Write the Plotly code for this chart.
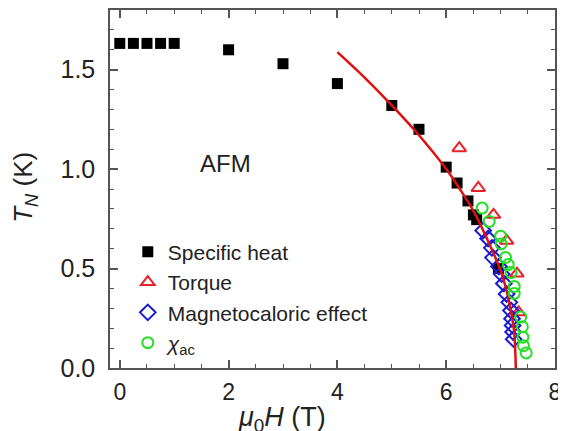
import plotly.graph_objects as go

# Specific heat (black filled squares)
sh_H = [0.0, 0.25, 0.5, 0.75, 1.0, 2.0, 3.0, 4.0, 5.0, 5.5, 6.0, 6.2, 6.4, 6.5, 6.56, 6.96]
sh_T = [1.632, 1.632, 1.632, 1.632, 1.632, 1.60, 1.53, 1.43, 1.32, 1.20, 1.01, 0.93, 0.84, 0.77, 0.746, 0.50]

# Torque (open red triangles)
tq_H = [6.24, 6.59, 6.87, 7.11, 7.30, 7.33]
tq_T = [1.105, 0.905, 0.77, 0.64, 0.475, 0.28]

# Magnetocaloric effect (open blue diamonds)
mce_H = [6.68, 6.77, 6.84, 6.86, 6.97, 7.02, 7.06, 7.11, 7.16, 7.19, 7.21, 7.22, 7.23, 7.24]
mce_T = [0.691, 0.651, 0.604, 0.555, 0.51, 0.472, 0.425, 0.372, 0.33, 0.289, 0.248, 0.214, 0.181, 0.145]

# chi_ac (open green circles)
chi_H = [6.66, 6.79, 7.00, 7.01, 7.09, 7.14, 7.19, 7.25, 7.25, 7.37, 7.40, 7.41, 7.42, 7.47]
chi_T = [0.804, 0.737, 0.663, 0.624, 0.555, 0.52, 0.48, 0.41, 0.375, 0.256, 0.207, 0.155, 0.112, 0.076]

# Fit curve (red line)
fit_H = [4.0, 4.5, 5.0, 5.5, 6.0, 6.25, 6.5, 6.75, 7.0, 7.1, 7.2, 7.25, 7.27, 7.28]
fit_T = [1.588, 1.46, 1.32, 1.17, 1.00, 0.90, 0.79, 0.65, 0.49, 0.40, 0.27, 0.18, 0.08, 0.0]

x_ticks = [0, 2, 4, 6, 8]
y_ticks = [0.0, 0.5, 1.0, 1.5]
y_tick_labels = ["0.0", "0.5", "1.0", "1.5"]

FONT = "Liberation Sans, Arial, sans-serif"
AX = "#555555"

fig = go.Figure()
fig.add_trace(go.Scatter(x=sh_H, y=sh_T, mode="markers", name="Specific heat", legendrank=1,
                         marker=dict(symbol="square", size=11, color="black")))
fig.add_trace(go.Scatter(x=tq_H, y=tq_T, mode="markers", name="Torque", legendrank=2,
                         marker=dict(symbol="triangle-up-open", size=12, color="#e8202a",
                                     line=dict(width=2, color="#e8202a"))))
fig.add_trace(go.Scatter(x=mce_H, y=mce_T, mode="markers", name="Magnetocaloric effect", legendrank=3,
                         marker=dict(symbol="diamond-open", size=12, color="#1a1ad0",
                                     line=dict(width=2, color="#1a1ad0"))))
fig.add_trace(go.Scatter(x=fit_H, y=fit_T, mode="lines", showlegend=False,
                         line=dict(color="#e01010", width=2.5, shape="spline")))
fig.add_trace(go.Scatter(x=chi_H, y=chi_T, mode="markers", name="<i>χ</i><sub>ac</sub>", legendrank=4,
                         marker=dict(symbol="circle-open", size=11, color="#22e022",
                                     line=dict(width=2, color="#22e022"))))

axis_common = dict(showline=True, linecolor=AX, linewidth=1.5, mirror="ticks",
                   ticks="inside", tickcolor=AX, tickwidth=1.5, ticklen=8,
                   showgrid=False, zeroline=False)

fig.update_xaxes(range=[-0.18, 8.0], tickvals=x_ticks, ticklabelstandoff=3,
                 tickfont=dict(family=FONT, size=23, color="#222222"),
                 minor=dict(dtick=0.5, ticks="inside", ticklen=4, tickcolor=AX, tickwidth=1.2),
                 **axis_common)
fig.update_yaxes(range=[0, 1.8], tickvals=y_ticks, ticktext=y_tick_labels, ticklabelstandoff=8,
                 tickfont=dict(family=FONT, size=25, color="#222222"),
                 minor=dict(dtick=0.1, ticks="inside", ticklen=4, tickcolor=AX, tickwidth=1.2),
                 **axis_common)

fig.add_annotation(text="AFM", x=1.95, y=1.03, xref="x", yref="y", showarrow=False,
                   font=dict(family=FONT, size=24, color="#222222"))
fig.add_annotation(text="<i>μ</i><sub>0</sub><i>H</i> (T)", x=2.98, xref="x", y=-0.143, yref="paper",
                   xanchor="center", yanchor="middle", showarrow=False,
                   font=dict(family=FONT, size=27, color="#222222"))
fig.add_annotation(text="<i>T</i><sub><i>N</i></sub> (K)", x=-0.192, xref="paper", y=0.505, yref="paper",
                   xanchor="center", yanchor="middle",
                   textangle=-90, showarrow=False,
                   font=dict(family=FONT, size=26, color="#222222"))

# page body has an 8px margin, so the figure is sized and offset to compensate
fig.update_layout(
    width=558, height=423,
    margin=dict(l=102, r=11, t=0, b=63),
    paper_bgcolor="white", plot_bgcolor="white",
    showlegend=True,
    legend=dict(x=0.04, y=0.381, xanchor="left", yanchor="top", bgcolor="rgba(0,0,0,0)",
                font=dict(family=FONT, size=21, color="#222222"), tracegroupgap=0,
                itemsizing="trace"),
)

fig.write_html("out.html")
